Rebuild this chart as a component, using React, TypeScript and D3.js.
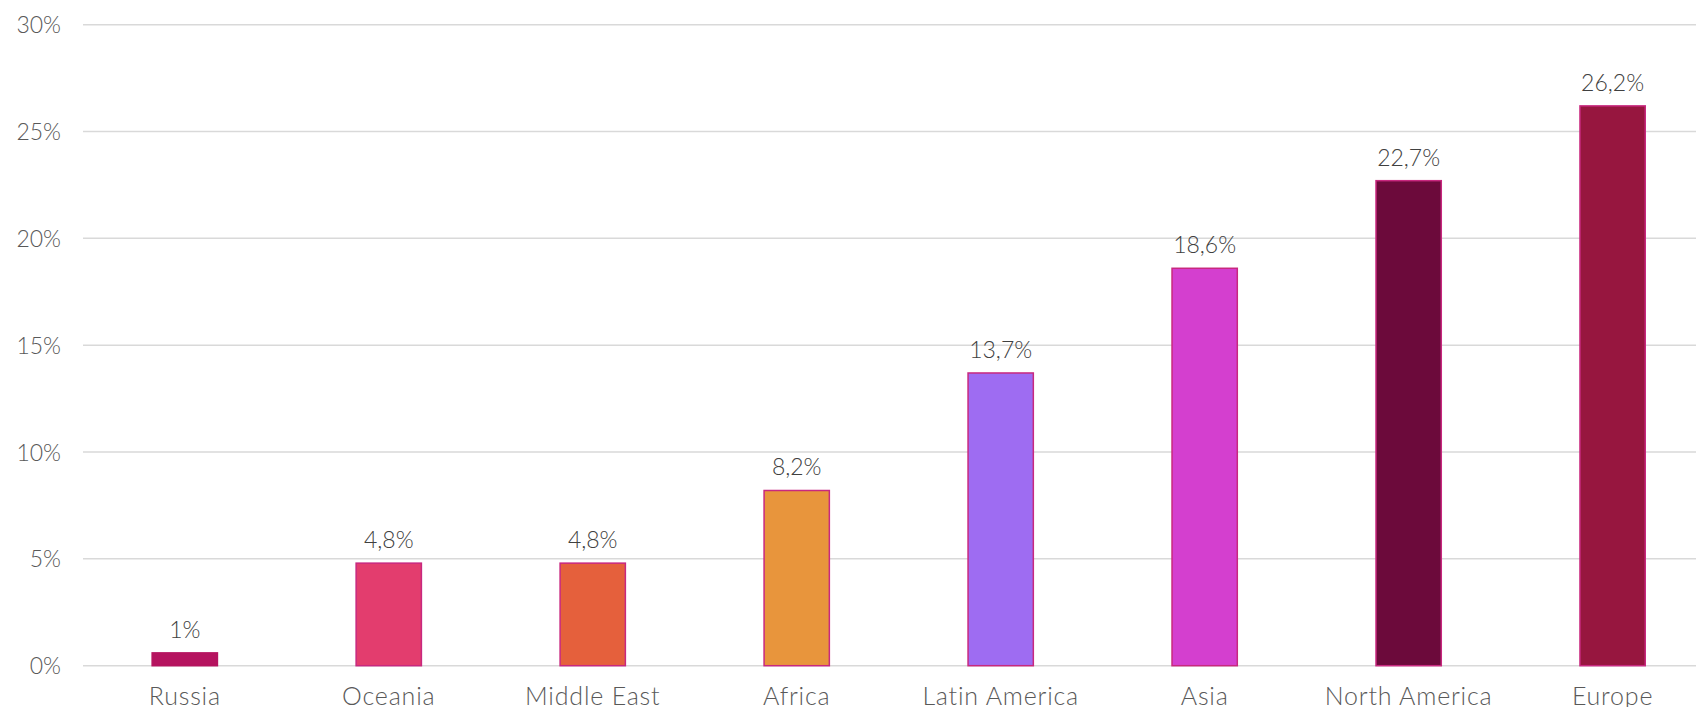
import React, { useEffect, useRef } from 'react';
import * as d3 from 'd3';

// data
const regions = ['Russia', 'Oceania', 'Middle East', 'Africa', 'Latin America', 'Asia', 'North America', 'Europe'];
const shares = [0.6, 4.8, 4.8, 8.2, 13.7, 18.6, 22.7, 26.2];
const shareLabels = ['1%', '4,8%', '4,8%', '8,2%', '13,7%', '18,6%', '22,7%', '26,2%'];
const barColors = ['#B5135F', '#E33D6E', '#E5603C', '#E8953C', '#9E6CF2', '#D43FCF', '#6C0A3B', '#97163F'];
const yTicks = [0, 5, 10, 15, 20, 25, 30];

const W = 1696;
const H = 707;
const FONT = 'Lato, "Open Sans", sans-serif';

const App = () => {
  const ref = useRef<SVGSVGElement | null>(null);

  useEffect(() => {
    const svg = d3.select(ref.current);
    svg.selectAll('*').remove();

    const x = d3.scaleBand<string>()
      .domain(regions)
      .range([82.8, 1714.6])
      .paddingInner(0.68)
      .paddingOuter(0.34);

    const y = d3.scaleLinear()
      .domain([0, 30])
      .range([665.7, 24.7]);

    // gridlines
    svg.append('g')
      .selectAll('line')
      .data(yTicks)
      .enter()
      .append('line')
      .attr('x1', 83)
      .attr('x2', W)
      .attr('y1', d => y(d))
      .attr('y2', d => y(d))
      .attr('stroke', '#d9d9d9')
      .attr('stroke-width', 1.5);

    // y tick labels
    svg.append('g')
      .selectAll('text')
      .data(yTicks)
      .enter()
      .append('text')
      .attr('x', 61)
      .attr('y', d => y(d) + 8.5)
      .attr('text-anchor', 'end')
      .attr('font-family', FONT)
      .attr('font-weight', 300)
      .attr('font-size', 23)
      .attr('fill', '#595959')
      .text(d => `${d}%`);

    // bars
    svg.append('g')
      .selectAll('rect')
      .data(shares)
      .enter()
      .append('rect')
      .attr('x', (d, i) => x(regions[i])!)
      .attr('y', d => y(d))
      .attr('width', x.bandwidth())
      .attr('height', d => y(0) - y(d))
      .attr('fill', (d, i) => barColors[i])
      .attr('stroke', (d, i) => (i === 0 ? barColors[0] : '#C8287F'))
      .attr('stroke-width', 1.5);

    // value labels
    svg.append('g')
      .selectAll('text')
      .data(shares)
      .enter()
      .append('text')
      .attr('x', (d, i) => x(regions[i])! + x.bandwidth() / 2)
      .attr('y', d => y(d) - 15)
      .attr('text-anchor', 'middle')
      .attr('font-family', FONT)
      .attr('font-weight', 300)
      .attr('font-size', 23)
      .attr('fill', '#404040')
      .text((d, i) => shareLabels[i]);

    // category labels
    svg.append('g')
      .selectAll('text')
      .data(regions)
      .enter()
      .append('text')
      .attr('x', d => x(d)! + x.bandwidth() / 2)
      .attr('y', 705)
      .attr('text-anchor', 'middle')
      .attr('font-family', FONT)
      .attr('font-weight', 300)
      .attr('font-size', 25)
      .attr('letter-spacing', 0.8)
      .attr('fill', '#595959')
      .text(d => d);
  }, []);

  return (
    <svg
      ref={ref}
      width={W}
      height={H}
      style={{ position: 'absolute', left: 0, top: 0, background: '#fff' }}
    />
  );
};

export default App;
